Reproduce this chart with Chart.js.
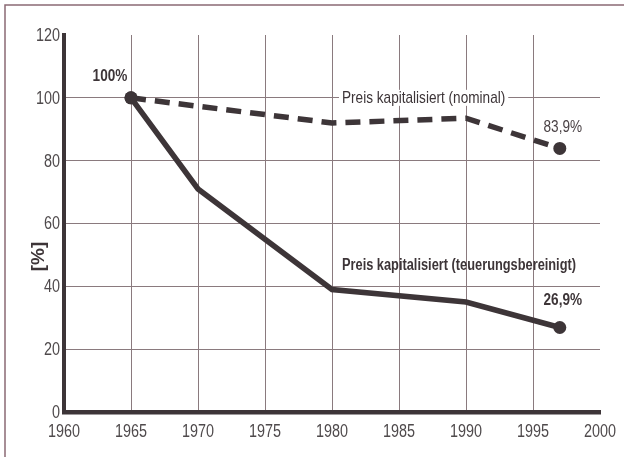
<!DOCTYPE html>
<html>
<head>
<meta charset="utf-8">
<script src="https://cdn.jsdelivr.net/npm/chart.js@4/dist/chart.umd.min.js"></script>
<style>
  html, body { margin: 0; padding: 0; background: #fff; }
  #wrap { width: 624px; height: 457px; position: relative; }
</style>
</head>
<body>
<div id="wrap"><canvas id="chart" width="624" height="457"></canvas></div>
<script>
// --- Daten ---
const realYears   = [1965, 1970, 1980, 1990, 1997];
const realValues  = [100, 71, 39, 35, 26.9];
const nomYears    = [1965, 1980, 1990, 1997];
const nomValues   = [100, 92, 93.5, 83.9];
const xTicks      = [1960, 1965, 1970, 1975, 1980, 1985, 1990, 1995, 2000];
const yTicks      = [0, 20, 40, 60, 80, 100, 120];
const labelNominal = 'Preis kapitalisiert (nominal)';
const labelReal    = 'Preis kapitalisiert (teuerungsbereinigt)';
const yTitle       = '[%]';

const FONT = "'Liberation Sans', Arial, sans-serif";
const NARROW = 0.8; // Ersatz für Arial Narrow: horizontal gestaucht
const INK = '#3d3538';
const GRID = '#8a7a7e';
const TICK = '#4f4a4c';

const toPoints = (xs, ys) => xs.map((x, i) => ({ x: x, y: ys[i] }));
const endDots = (n) => Array.from({ length: n }, (_, i) => (i === 0 || i === n - 1) ? 6.5 : 0);
const fmt = (v) => String(v).replace('.', ',') + '%';

// schmaler Text
function narrowText(ctx, txt, x, y) {
    ctx.save();
    ctx.translate(x, y);
    ctx.scale(NARROW, 1);
    ctx.fillText(txt, 0, 0);
    ctx.restore();
}

// Rahmen, Tick-Labels, Achsentitel und Beschriftungen
const decoPlugin = {
    id: 'deco',
    beforeDraw(chart) {
        const ctx = chart.ctx;
        ctx.save();
        ctx.fillStyle = '#fff';
        ctx.fillRect(0, 0, chart.width, chart.height);
        ctx.strokeStyle = '#8a6a74';
        ctx.lineWidth = 1.5;
        ctx.beginPath();
        ctx.moveTo(5, chart.height);
        ctx.lineTo(5, 5);
        ctx.lineTo(chart.width, 5);
        ctx.stroke();
        ctx.restore();
    },
    afterDraw(chart) {
        const ctx = chart.ctx;
        const xs = chart.scales.x, ys = chart.scales.y;
        const px = (x) => xs.getPixelForValue(x);
        const py = (y) => ys.getPixelForValue(y);
        const area = chart.chartArea;
        ctx.save();
        ctx.textBaseline = 'middle';

        // Tick-Labels (schmal)
        ctx.fillStyle = TICK;
        ctx.font = '18px ' + FONT;
        ctx.textAlign = 'center';
        xs.ticks.forEach(t => narrowText(ctx, String(t.value), px(t.value), area.bottom + 20));
        ctx.textAlign = 'right';
        ys.ticks.forEach(t => narrowText(ctx, String(t.value), area.left - 4, py(t.value) + 1));

        // y-Achsentitel
        ctx.fillStyle = INK;
        ctx.font = 'bold 19px ' + FONT;
        ctx.textAlign = 'center';
        ctx.save();
        ctx.translate(39, py(49.5));
        ctx.rotate(-Math.PI / 2);
        ctx.fillText(yTitle, 0, 0);
        ctx.restore();

        // Reihenbeschriftungen
        ctx.font = '17px ' + FONT;
        ctx.textAlign = 'left';
        const tw = ctx.measureText(labelNominal).width * NARROW;
        const lx = px(1980) + 10, ly = py(100);
        ctx.fillStyle = '#fff';
        ctx.fillRect(lx - 3, ly - 8, tw + 6, 16);
        ctx.fillStyle = INK;
        narrowText(ctx, labelNominal, lx, ly);

        ctx.font = 'bold 16px ' + FONT;
        narrowText(ctx, labelReal, px(1980) + 10, py(46.5));

        // Endwerte
        ctx.textAlign = 'center';
        ctx.font = 'bold 17px ' + FONT;
        narrowText(ctx, fmt(realValues[0]), px(1965) - 21, py(100) - 22);
        ctx.font = '17px ' + FONT;
        ctx.fillStyle = '#4a4245';
        narrowText(ctx, fmt(nomValues[nomValues.length - 1]), px(1997) + 3, py(83.9) - 21);
        ctx.font = 'bold 17px ' + FONT;
        ctx.fillStyle = INK;
        narrowText(ctx, fmt(realValues[realValues.length - 1]), px(1997) + 3, py(26.9) - 27);
        ctx.restore();
    }
};

new Chart(document.getElementById('chart'), {
    type: 'line',
    data: {
        datasets: [
            {
                label: labelNominal,
                data: toPoints(nomYears, nomValues),
                borderColor: INK,
                backgroundColor: INK,
                borderWidth: 5.5,
                borderDash: [15, 9],
                pointRadius: endDots(nomYears.length),
                pointBorderWidth: 0,
                pointHoverRadius: 0,
                tension: 0
            },
            {
                label: labelReal,
                data: toPoints(realYears, realValues),
                borderColor: INK,
                backgroundColor: INK,
                borderWidth: 5.5,
                pointRadius: endDots(realYears.length),
                pointBorderWidth: 0,
                pointHoverRadius: 0,
                tension: 0
            }
        ]
    },
    options: {
        responsive: false,
        animation: false,
        layout: { padding: { left: 0, right: 24, top: 35, bottom: 0 } },
        plugins: { legend: { display: false }, tooltip: { enabled: false } },
        scales: {
            x: {
                type: 'linear',
                min: 1960, max: 2000,
                afterBuildTicks: (s) => { s.ticks = xTicks.map(v => ({ value: v })); },
                afterFit: (s) => { s.height = 45; },
                ticks: { display: false },
                grid: {
                    color: (c) => (c.tick && (c.tick.value === 1960 || c.tick.value === 2000)) ? 'rgba(0,0,0,0)' : GRID,
                    lineWidth: 1,
                    drawTicks: false
                },
                border: { display: true, color: INK, width: 4.5 }
            },
            y: {
                min: 0, max: 120,
                afterBuildTicks: (s) => { s.ticks = yTicks.map(v => ({ value: v })); },
                afterFit: (s) => { s.width = 64; },
                ticks: { display: false },
                grid: {
                    color: (c) => (c.tick && (c.tick.value === 0 || c.tick.value === 120)) ? 'rgba(0,0,0,0)' : GRID,
                    lineWidth: 1,
                    drawTicks: false
                },
                border: { display: true, color: INK, width: 4 }
            }
        }
    },
    plugins: [decoPlugin]
});
</script>
</body>
</html>
